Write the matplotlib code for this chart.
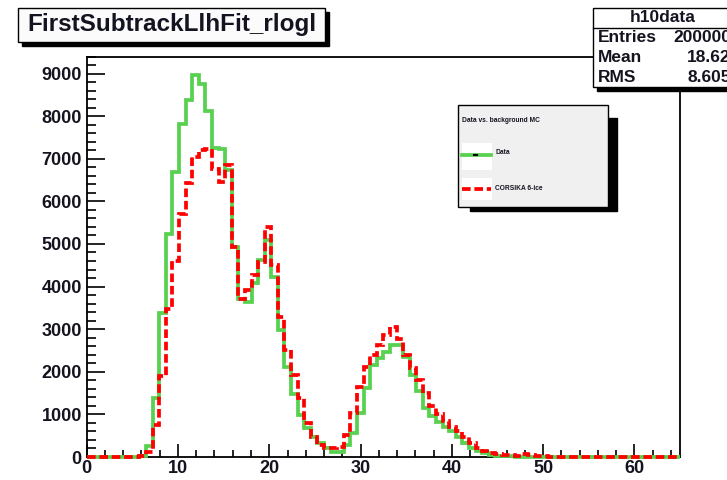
import numpy as np
import matplotlib
matplotlib.use("Agg")
import matplotlib.pyplot as plt
from matplotlib.patches import Rectangle
from matplotlib.lines import Line2D
from matplotlib.ticker import MultipleLocator

# ---------------- data ----------------
title = "FirstSubtrackLlhFit_rlogl"
stats_name = "h10data"
stats_labels = ["Entries", "Mean", "RMS"]
stats_values = ["200000", "18.62", "8.605"]
legend_header = "Data vs. background MC"
series_names = ["Data", "CORSIKA 6-ice"]

x_min, x_max, n_bins = 0.0, 65.0, 90

data_counts = [
    0, 0, 0, 0, 0, 0, 0, 0, 15, 265,
    1375, 3370, 5240, 6690, 7820, 8380, 8975, 8760, 8130, 7260,
    7220, 6725, 4930, 3700, 3640, 4080, 4620, 5090, 4225, 2980,
    2120, 1490, 985, 670, 475, 320, 200, 125, 125, 280,
    560, 1030, 1610, 2155, 2330, 2470, 2625, 2640, 2350, 1920,
    1550, 1160, 965, 810, 700, 600, 470, 340, 220, 140,
    90, 55, 30, 20, 15, 10, 8, 5, 0, 0,
    0, 0, 0, 0, 0, 0, 0, 0, 0, 0,
    0, 0, 0, 0, 0, 0, 0, 0, 0, 0,
]
mc_counts = [
    0, 0, 0, 0, 0, 0, 0, 0, 20, 120,
    750, 1900, 3470, 4600, 5700, 6430, 7040, 7210, 7230, 6770,
    6450, 6850, 4930, 3720, 3930, 4265, 4580, 5400, 4500, 3290,
    2510, 1920, 1375, 790, 475, 280, 200, 200, 240, 515,
    1025, 1650, 2115, 2390, 2625, 2860, 3050, 2780, 2400, 2100,
    1800, 1500, 1200, 1000, 840, 700, 600, 470, 330, 220,
    150, 90, 70, 55, 45, 30, 70, 40, 25, 15,
    10, 0, 0, 0, 0, 0, 0, 0, 0, 0,
    0, 0, 0, 0, 0, 0, 0, 0, 0, 0,
]
y_max = 9400

# ---------------- figure ----------------
W, H = 727, 480
fig = plt.figure(figsize=(W / 100, H / 100), dpi=100)
fig.patch.set_facecolor("white")
FONT = "Liberation Sans"
plt.rcParams["font.family"] = [FONT, "DejaVu Sans"]
TXT = "#141420"

def fx(x):
    return x / W

def fy(y):
    return 1 - y / H

def rect(x0, y0, x1, y1, **kw):
    r = Rectangle((fx(x0), fy(y1)), (x1 - x0) / W, (y1 - y0) / H,
                  transform=fig.transFigure, **kw)
    fig.add_artist(r)
    return r

def hline(x0, x1, y, **kw):
    fig.add_artist(Line2D([fx(x0), fx(x1)], [fy(y), fy(y)],
                          transform=fig.transFigure, **kw))

# main axes
ax_l, ax_r, ax_t, ax_b = 86.7, 680.0, 56.5, 457.0
ax = fig.add_axes([fx(ax_l), fy(ax_b), (ax_r - ax_l) / W, (ax_b - ax_t) / H])
ax.set_xlim(x_min, x_max)
ax.set_ylim(0, y_max)

edges = np.linspace(x_min, x_max, n_bins + 1)
green = "#58d150"
LW = 2.7
ax.stairs(data_counts, edges, color=green, lw=LW, clip_on=False, zorder=3)
ax.stairs(mc_counts, edges, color="#ff0000", lw=LW,
          linestyle=(0, (2.3, 1.0)), clip_on=False, zorder=4)

for s in ax.spines.values():
    s.set_linewidth(1.3)
    s.set_color("black")

ax.xaxis.set_major_locator(MultipleLocator(10))
ax.xaxis.set_minor_locator(MultipleLocator(2))
ax.yaxis.set_major_locator(MultipleLocator(1000))
ax.yaxis.set_minor_locator(MultipleLocator(200))
ax.tick_params(which="both", direction="in", top=False, right=False,
               width=1.2, color="black")
ax.tick_params(axis="y", which="major", length=13, pad=3.5)
ax.tick_params(axis="y", which="minor", length=6.5)
ax.tick_params(axis="x", which="major", length=9.5, pad=2.5)
ax.tick_params(axis="x", which="minor", length=4.8)
for lab in ax.get_xticklabels() + ax.get_yticklabels():
    lab.set_fontsize(13)
    lab.set_fontweight("bold")
    lab.set_color(TXT)

# ---------------- title box ----------------
rect(22, 12, 329, 46, facecolor="black", edgecolor="black", zorder=10)
rect(18, 8, 325, 42, facecolor="#fbfbfb", edgecolor="black", lw=1.0, zorder=11)
fig.text(fx(27), fy(24.5), title, ha="left", va="center", fontsize=17.5,
         fontweight="bold", color=TXT, zorder=12)

# ---------------- stats box ----------------
rect(597, 12, 740, 91, facecolor="black", edgecolor="black", zorder=10)
rect(592.7, 8, 736, 87, facecolor="white", edgecolor="black", lw=1.0, zorder=11)
hline(592.7, 736, 28, color="black", lw=1.0, zorder=12)
fig.text(fx(663), fy(18), stats_name, ha="center", va="center", fontsize=12.5,
         fontweight="bold", color=TXT, zorder=12)
for i, (lab, val) in enumerate(zip(stats_labels, stats_values)):
    yy = [37.5, 58, 78][i]
    fig.text(fx(598), fy(yy), lab, ha="left", va="center", fontsize=12.5,
             fontweight="bold", color=TXT, zorder=12)
    fig.text(fx(731), fy(yy), val, ha="right", va="center", fontsize=12.5,
             fontweight="bold", color=TXT, zorder=12)

# ---------------- legend ----------------
rect(470, 118, 617, 211, facecolor="black", edgecolor="black", zorder=10)
rect(458.3, 105, 608.3, 206.7, facecolor="#f0f0f0", edgecolor="black",
     lw=1.0, zorder=11)
fig.text(fx(462), fy(120), legend_header, ha="left", va="center", fontsize=4.8,
         fontweight="bold", color=TXT, zorder=12)
rect(461.7, 143, 491.7, 170, facecolor="white", edgecolor="none", zorder=12)
rect(461.7, 178, 491.7, 200, facecolor="white", edgecolor="none", zorder=12)
hline(462, 491, 155, color=green, lw=LW, zorder=13)
hline(473.5, 477, 155, color="black", lw=1.5, zorder=14)
hline(462, 491, 189, color="#ff0000", lw=LW,
      linestyle=(0, (2.3, 1.0)), zorder=13)
fig.text(fx(495), fy(152), series_names[0], ha="left", va="center",
         fontsize=4.8, fontweight="bold", color=TXT, zorder=12)
fig.text(fx(495), fy(188), series_names[1], ha="left", va="center",
         fontsize=4.8, fontweight="bold", color=TXT, zorder=12)

fig.savefig("out.png", dpi=100)
